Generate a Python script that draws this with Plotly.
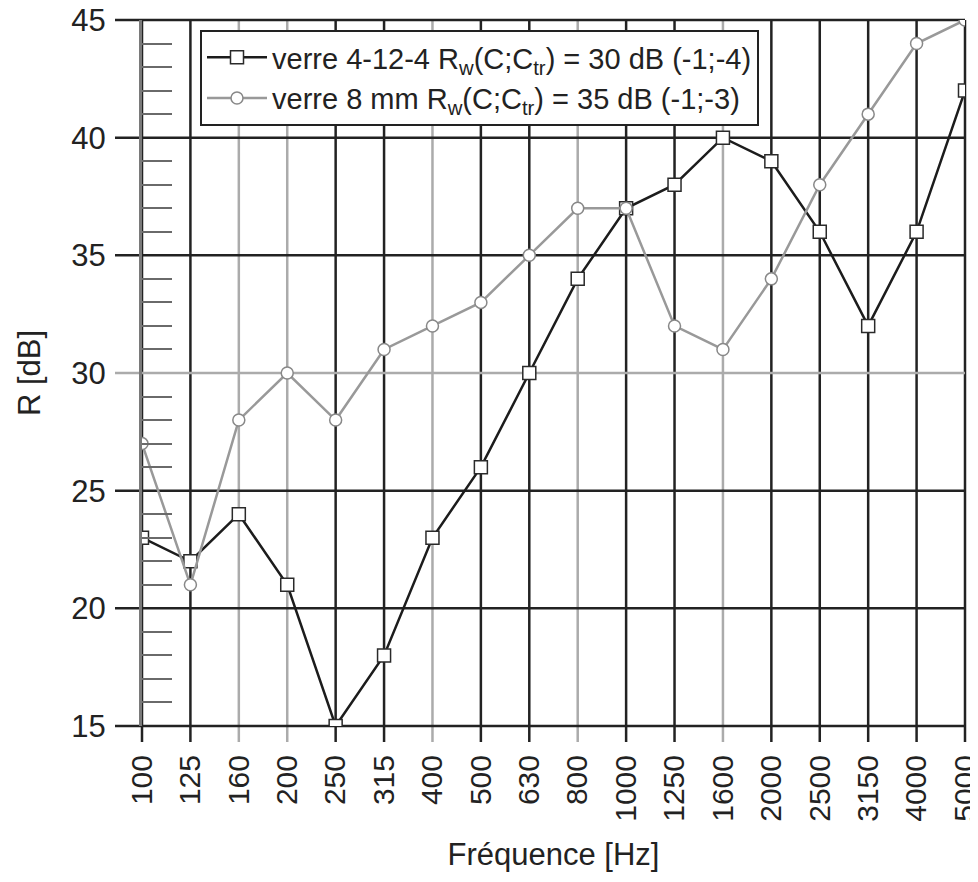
import plotly.graph_objects as go

freqs = ["100", "125", "160", "200", "250", "315", "400", "500", "630", "800",
         "1000", "1250", "1600", "2000", "2500", "3150", "4000", "5000"]
r_double = [23, 22, 24, 21, 15, 18, 23, 26, 30, 34, 37, 38, 40, 39, 36, 32, 36, 42]
r_single = [27, 21, 28, 30, 28, 31, 32, 33, 35, 37, 37, 32, 31, 34, 38, 41, 44, 45]
name_double = "verre 4-12-4 R<sub>w</sub>(C;C<sub>tr</sub>) = 30 dB (-1;-4)"
name_single = "verre 8 mm R<sub>w</sub>(C;C<sub>tr</sub>) = 35 dB (-1;-3)"
y_major = [15, 20, 25, 30, 35, 40, 45]
y_light = [30]
x_light = ["160", "200", "400", "800", "1600"]

idx = list(range(len(freqs)))
y_minor = [v for v in range(y_major[0], y_major[-1] + 1) if v % 5 != 0]

FONT = "Liberation Sans, Arial, sans-serif"
DARK = "#222222"
LIGHT = "#ababab"
XR = [0, len(freqs) - 1]
YR = [y_major[0], y_major[-1]]

# page body has an 8px margin, so the figure's own margins are offset by it
L, R, T, B = 134, 21, 12, 164
PW, PH = 978 - L - R, 882 - T - B
XTICK, YTICK = 16, 27

fig = go.Figure()
fig.add_trace(go.Scatter(
    x=idx, y=r_double, name=name_double, mode="lines+markers",
    line=dict(color="#1c1c1c", width=2.5),
    marker=dict(symbol="square", size=13, color="white",
                line=dict(color="#2a2a2a", width=1.5)),
))
fig.add_trace(go.Scatter(
    x=idx, y=r_single, name=name_single, mode="lines+markers",
    line=dict(color="#999999", width=2.5),
    marker=dict(symbol="circle", size=12, color="white",
                line=dict(color="#888888", width=1.5)),
))

shapes = []
# vertical grid lines (with their tick extension below the axis)
for i, f in enumerate(freqs):
    col = LIGHT if f in x_light else DARK
    xp = (i - XR[0]) / (XR[1] - XR[0])
    shapes.append(dict(type="line", xref="paper", yref="paper", layer="below",
                       x0=xp, x1=xp, y0=-XTICK / PH, y1=1,
                       line=dict(color=col, width=2.5)))
# horizontal grid lines (with their tick extension left of the axis)
for v in y_major:
    col = LIGHT if v in y_light else DARK
    yp = (v - YR[0]) / (YR[1] - YR[0])
    shapes.append(dict(type="line", xref="paper", yref="paper", layer="below",
                       x0=-YTICK / PW, x1=1, y0=yp, y1=yp,
                       line=dict(color=col, width=2.5)))

fig.update_layout(
    width=978, height=882,
    margin=dict(l=L, r=R, t=T, b=B, autoexpand=False),
    paper_bgcolor="white", plot_bgcolor="white",
    font=dict(family=FONT, size=30, color="#222222"),
    showlegend=True,
    shapes=shapes,
    legend=dict(
        x=(200 - 142) / PW, y=(726 - 30) / PH, xanchor="left", yanchor="top",
        bgcolor="white", bordercolor="#222222", borderwidth=2,
        font=dict(family=FONT, size=29, color="#222222"),
        itemwidth=60, tracegroupgap=0,
    ),
    xaxis=dict(
        range=XR, zeroline=False, fixedrange=True, automargin=False,
        showline=False, tickmode="array", tickvals=idx, ticktext=freqs,
        tickangle=-90, ticks="outside", ticklen=XTICK, tickcolor="rgba(0,0,0,0)",
        showgrid=False, tickfont=dict(size=30), ticklabeloverflow="allow",
        title=dict(text="Fréquence [Hz]", font=dict(size=31), standoff=22),
    ),
    yaxis=dict(
        range=YR, zeroline=False, fixedrange=True, automargin=False,
        tickmode="array", tickvals=y_major,
        ticks="outside", ticklen=YTICK, tickcolor="rgba(0,0,0,0)",
        showgrid=False, tickfont=dict(size=31), ticklabeloverflow="allow",
        showline=True, linecolor="#7a7a7a", linewidth=3,
        minor=dict(tickmode="array", tickvals=y_minor, ticks="inside", ticklen=30,
                   tickwidth=2, tickcolor="#6a6a6a", showgrid=False),
        title=dict(text="R [dB]", font=dict(size=31), standoff=22),
    ),
)

fig.write_html("out.html")
